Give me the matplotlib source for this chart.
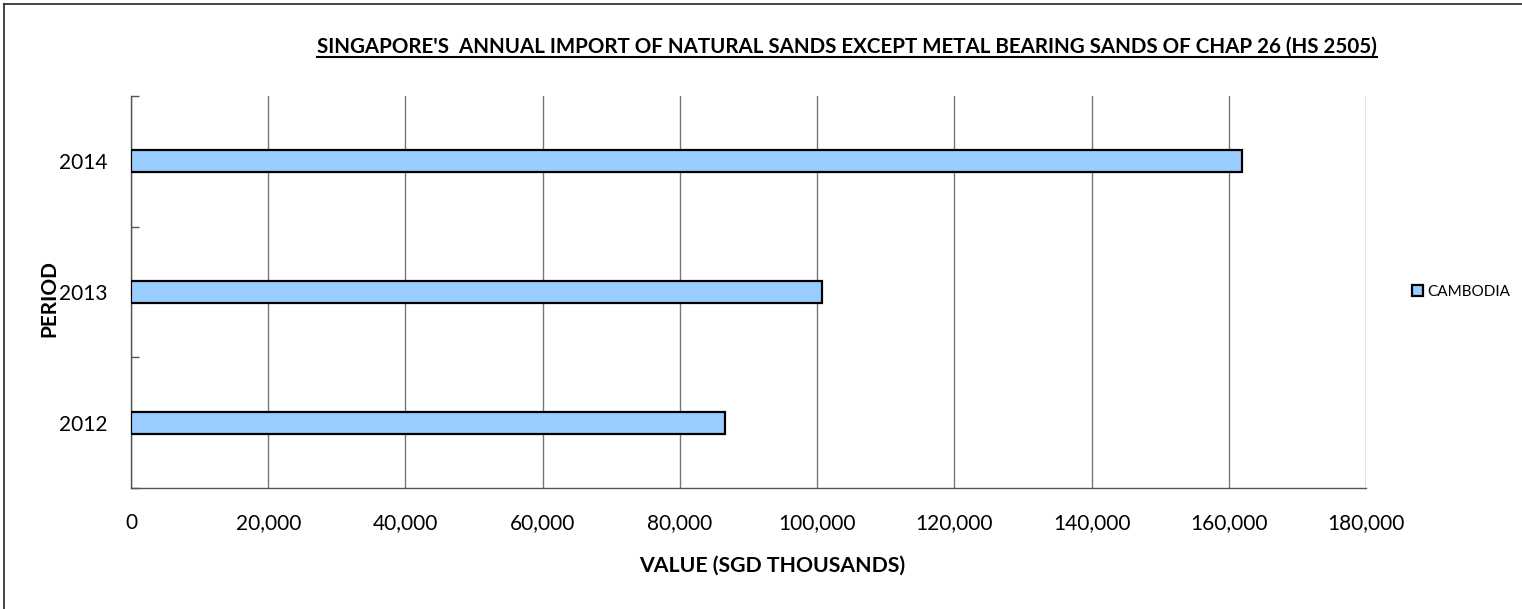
import matplotlib.pyplot as plt
from matplotlib.lines import Line2D
from matplotlib.ticker import FuncFormatter

# data
periods = ['2012', '2013', '2014']
values = [86600, 100700, 161900]
series_name = 'CAMBODIA'

plt.rcParams['font.family'] = ['Lato', 'DejaVu Sans']

W, H = 1522, 609
fig = plt.figure(figsize=(W / 100, H / 100), dpi=100)
ax = fig.add_axes([131 / W, 1 - 488 / H, (1366 - 131) / W, (488 - 96) / H])

pos = list(range(len(periods)))
ax.barh(pos, values, height=0.168, color='#99CCFF', edgecolor='black',
        linewidth=1.6, label=series_name, zorder=3)

ax.set_xlim(0, 180000)
ax.set_ylim(-0.5, len(periods) - 0.5)
ax.set_xticks(range(0, 180001, 20000))
ax.xaxis.set_major_formatter(FuncFormatter(lambda v, p: f'{int(v):,}'))
ax.set_yticks(pos)
ax.set_yticklabels(periods)
ax.set_yticks([p - 0.5 for p in range(len(periods) + 1)], minor=True)

ax.tick_params(axis='x', length=0, pad=18, labelsize=15)
ax.tick_params(axis='y', which='major', length=0, pad=17, labelsize=15)
ax.tick_params(axis='y', which='minor', direction='in', length=6, width=1, color='#555555')

ax.grid(axis='x', color='#777777', linewidth=1, zorder=0)
for side in ['top', 'right']:
    ax.spines[side].set_visible(False)
for side in ['left', 'bottom']:
    ax.spines[side].set_color('#555555')
    ax.spines[side].set_linewidth(1)

ax.set_xlabel('VALUE (SGD THOUSANDS)', fontsize=15.3, fontweight='bold')
ax.xaxis.set_label_coords((772 - 131) / 1235, -(566 - 488) / 392)
ax.xaxis.label.set_va('center')
ax.set_ylabel('PERIOD', fontsize=15, fontweight='bold')
ax.yaxis.set_label_coords(-(131 - 49) / 1235, (488 - 299) / 392)
ax.yaxis.label.set_va('center')

ax.legend(loc='center left', bbox_to_anchor=(1.026, 0.5), frameon=False,
          fontsize=11, handlelength=0.7, handleheight=0.7, handletextpad=0.3)

title = fig.text(847 / W, 1 - 53 / H,
                 "SINGAPORE'S  ANNUAL IMPORT OF NATURAL SANDS EXCEPT METAL BEARING SANDS OF CHAP 26 (HS 2505)",
                 ha='center', va='baseline', fontsize=14.8, fontweight='bold')

# outer chart border: only top and left edges show
fig.add_artist(Line2D([4 / W, 1], [1 - 4 / H, 1 - 4 / H], transform=fig.transFigure,
                      color='#222222', linewidth=1.2))
fig.add_artist(Line2D([4 / W, 4 / W], [0, 1 - 4 / H], transform=fig.transFigure,
                      color='#222222', linewidth=1.2))

# underline the title
fig.canvas.draw()
bb = title.get_window_extent().transformed(fig.transFigure.inverted())
fig.add_artist(Line2D([bb.x0, bb.x1], [1 - 56.5 / H, 1 - 56.5 / H],
                      transform=fig.transFigure, color='black', linewidth=1.5))

fig.savefig('out.png', dpi=100)
